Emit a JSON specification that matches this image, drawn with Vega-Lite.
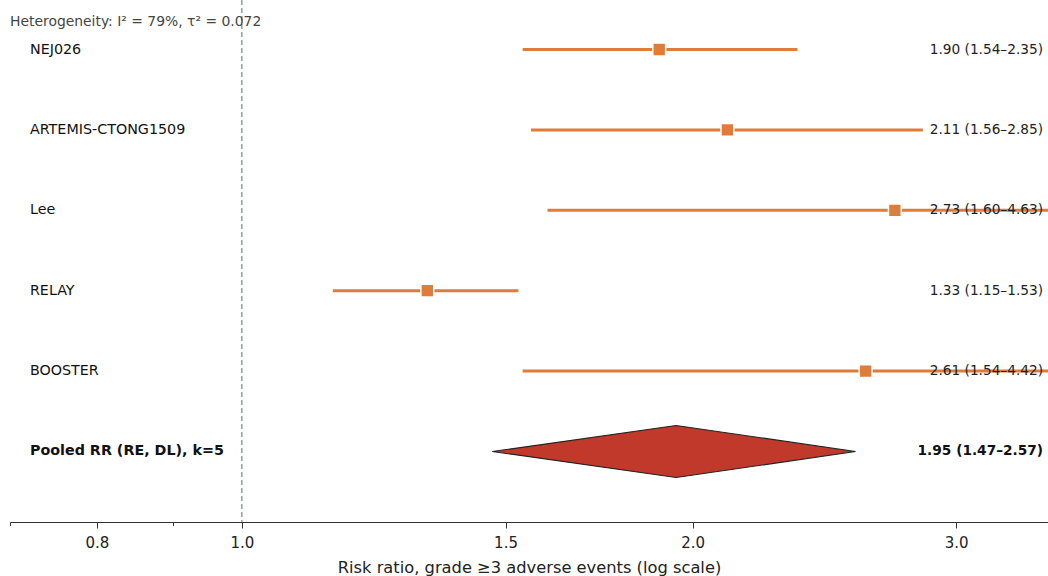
{
  "$schema": "https://vega.github.io/schema/vega-lite/v6.json",
  "width": 1038,
  "height": 522,
  "autosize": {"type": "none"},
  "padding": {"left": 10, "top": 0, "right": 0, "bottom": 54},
  "background": "white",
  "config": {
    "view": {"stroke": null},
    "font": "DejaVu Sans",
    "axis": {
      "domainColor": "#333333",
      "domainWidth": 1,
      "tickColor": "#333333",
      "tickWidth": 1,
      "labelFont": "DejaVu Sans",
      "labelFontSize": 15,
      "labelColor": "#222222",
      "titleFont": "DejaVu Sans",
      "titleFontSize": 16.3,
      "titleFontWeight": "normal",
      "titleColor": "#222222"
    }
  },
  "title": {
    "text": "Heterogeneity: I² = 79%, τ² = 0.072",
    "anchor": "start",
    "frame": "group",
    "orient": "top",
    "offset": -26,
    "dy": 14,
    "baseline": "alphabetic",
    "font": "DejaVu Sans",
    "fontSize": 13.9,
    "fontWeight": "normal",
    "color": "#444444"
  },
  "data": {
    "values": [
      {"study": "NEJ026", "type": "study", "rr": 1.90, "lo": 1.54, "hi": 2.35, "label": "1.90 (1.54–2.35)"},
      {"study": "ARTEMIS-CTONG1509", "type": "study", "rr": 2.11, "lo": 1.56, "hi": 2.85, "label": "2.11 (1.56–2.85)"},
      {"study": "Lee", "type": "study", "rr": 2.73, "lo": 1.60, "hi": 4.63, "label": "2.73 (1.60–4.63)"},
      {"study": "RELAY", "type": "study", "rr": 1.33, "lo": 1.15, "hi": 1.53, "label": "1.33 (1.15–1.53)"},
      {"study": "BOOSTER", "type": "study", "rr": 2.61, "lo": 1.54, "hi": 4.42, "label": "2.61 (1.54–4.42)"},
      {"study": "Pooled RR (RE, DL), k=5", "type": "pooled", "rr": 1.95, "lo": 1.47, "hi": 2.57, "label": "1.95 (1.47–2.57)"}
    ]
  },
  "layer": [
    {
      "data": {"values": [{"ref": 1}]},
      "mark": {"type": "rule", "color": "#5a7070", "strokeWidth": 1, "strokeDash": [5, 3]},
      "encoding": {
        "x": {
          "field": "ref",
          "type": "quantitative",
          "scale": {"type": "log", "domain": [0.7, 3.455], "nice": false, "zero": false},
          "axis": {
            "values": [0.7, 0.8, 0.9, 1, 1.5, 2, 3],
            "labelExpr": "(datum.value < 0.75 || (datum.value > 0.85 && datum.value < 0.95)) ? '' : format(datum.value, '.1f')",
            "tickSize": {"condition": {"test": "datum.value < 0.75 || (datum.value > 0.85 && datum.value < 0.95)", "value": 3.5}, "value": 6},
            "labelPadding": 7,
            "grid": false,
            "title": "Risk ratio, grade ≥3 adverse events (log scale)",
            "titlePadding": 9,
            "labelFlush": false,
            "labelOverlap": false
          }
        }
      }
    },
    {
      "transform": [{"filter": "datum.type === 'study'"}],
      "mark": {"type": "rule", "color": "#e07b39", "strokeWidth": 3, "clip": true},
      "encoding": {
        "x": {"field": "lo", "type": "quantitative"},
        "x2": {"field": "hi"},
        "y": {"field": "study", "type": "nominal", "sort": null, "scale": {"type": "point", "padding": 0.7463, "align": 0.4125, "round": false}, "axis": null}
      }
    },
    {
      "transform": [{"filter": "datum.type === 'study'"}],
      "mark": {"type": "point", "shape": "square", "filled": true, "fill": "#e07b39", "stroke": "white", "strokeWidth": 1.5, "size": 165, "opacity": 1},
      "encoding": {
        "x": {"field": "rr", "type": "quantitative"},
        "y": {"field": "study", "type": "nominal", "sort": null}
      }
    },
    {
      "transform": [{"filter": "datum.type === 'pooled'"}],
      "mark": {"type": "point", "shape": "M -1 0 L 0 -0.1415 L 0.976 0 L 0 0.1415 Z", "filled": true, "fill": "#c0392b", "stroke": "#222222", "strokeWidth": 1.2, "size": 135130, "opacity": 1},
      "encoding": {
        "x": {"field": "rr", "type": "quantitative"},
        "y": {"field": "study", "type": "nominal", "sort": null}
      }
    },
    {
      "transform": [{"filter": "datum.type === 'study'"}],
      "mark": {"type": "text", "align": "left", "baseline": "middle", "fontSize": 14.3, "color": "#111111", "font": "DejaVu Sans"},
      "encoding": {
        "x": {"datum": 0.7218, "type": "quantitative"},
        "y": {"field": "study", "type": "nominal", "sort": null},
        "text": {"field": "study"}
      }
    },
    {
      "transform": [{"filter": "datum.type === 'pooled'"}],
      "mark": {"type": "text", "align": "left", "baseline": "middle", "fontSize": 14.3, "fontWeight": "bold", "color": "#111111", "font": "DejaVu Sans"},
      "encoding": {
        "x": {"datum": 0.7218, "type": "quantitative"},
        "y": {"field": "study", "type": "nominal", "sort": null},
        "text": {"field": "study"}
      }
    },
    {
      "transform": [{"filter": "datum.type === 'study'"}],
      "mark": {"type": "text", "align": "right", "baseline": "middle", "fontSize": 13.7, "color": "#222222", "font": "DejaVu Sans"},
      "encoding": {
        "x": {"datum": 3.4287, "type": "quantitative"},
        "y": {"field": "study", "type": "nominal", "sort": null},
        "text": {"field": "label"}
      }
    },
    {
      "transform": [{"filter": "datum.type === 'pooled'"}],
      "mark": {"type": "text", "align": "right", "baseline": "middle", "fontSize": 13.7, "fontWeight": "bold", "color": "#111111", "font": "DejaVu Sans"},
      "encoding": {
        "x": {"datum": 3.4287, "type": "quantitative"},
        "y": {"field": "study", "type": "nominal", "sort": null},
        "text": {"field": "label"}
      }
    }
  ]
}
